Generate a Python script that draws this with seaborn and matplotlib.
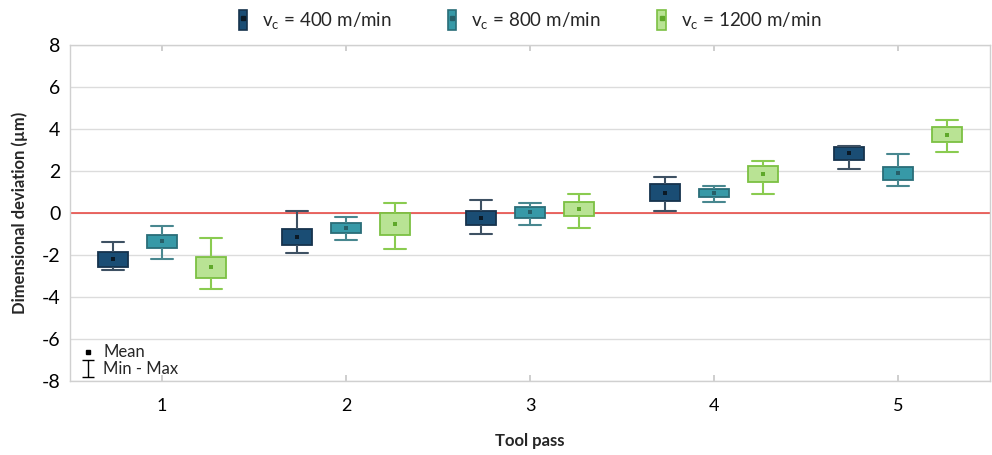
import numpy as np
import pandas as pd
import matplotlib
matplotlib.use("Agg")
import matplotlib.pyplot as plt
from matplotlib.patches import Patch
from matplotlib.lines import Line2D
from matplotlib.legend_handler import HandlerTuple
import seaborn as sns

# Tool passes and cutting speeds
passes = ["1", "2", "3", "4", "5"]
speeds = ["400", "800", "1200"]

# Dimensional deviation statistics (µm) per cutting speed and tool pass
vc400_min = [-2.71, -1.89, -0.98, 0.11, 2.10]
vc400_q1 = [-2.56, -1.52, -0.56, 0.56, 2.54]
vc400_q3 = [-1.84, -0.76, 0.08, 1.38, 3.13]
vc400_max = [-1.40, 0.10, 0.60, 1.71, 3.21]
vc400_mean = [-2.19, -1.14, -0.24, 0.97, 2.84]

vc800_min = [-2.21, -1.30, -0.59, 0.51, 1.29]
vc800_q1 = [-1.68, -0.95, -0.25, 0.76, 1.56]
vc800_q3 = [-1.03, -0.46, 0.30, 1.14, 2.19]
vc800_max = [-0.60, -0.19, 0.49, 1.30, 2.83]
vc800_mean = [-1.35, -0.71, 0.03, 0.95, 1.89]

vc1200_min = [-3.62, -1.71, -0.71, 0.92, 2.90]
vc1200_q1 = [-3.11, -1.05, -0.16, 1.46, 3.37]
vc1200_q3 = [-2.08, 0.00, 0.52, 2.24, 4.08]
vc1200_max = [-1.21, 0.49, 0.90, 2.49, 4.44]
vc1200_mean = [-2.59, -0.54, 0.17, 1.84, 3.73]

stats = {
    "400": (vc400_min, vc400_q1, vc400_mean, vc400_q3, vc400_max),
    "800": (vc800_min, vc800_q1, vc800_mean, vc800_q3, vc800_max),
    "1200": (vc1200_min, vc1200_q1, vc1200_mean, vc1200_q3, vc1200_max),
}

# Five-point samples: min, Q1, centre, Q3, max -> quartiles land on Q1/Q3
rows, mean_rows = [], []
for sp in speeds:
    mn, q1, mu, q3, mx = stats[sp]
    for i, p in enumerate(passes):
        for v in (mn[i], q1[i], mu[i], q3[i], mx[i]):
            rows.append({"pass": p, "speed": sp, "value": v})
        mean_rows.append({"pass": p, "speed": sp, "mean": mu[i]})
df = pd.DataFrame(rows)
df_mean = pd.DataFrame(mean_rows)

fills = {"400": "#1a4d74", "800": "#3799a7", "1200": "#b9e394"}
edges = {"400": "#16334d", "800": "#2a6d78", "1200": "#7cc043"}
whisk = {"400": "#3e5163", "800": "#48878f", "1200": "#8acb50"}
means = {"400": "#0b1a26", "800": "#275f68", "1200": "#5fa82a"}

sns.set_theme(style="white")
plt.rcParams["font.family"] = ["Lato", "DejaVu Sans"]
plt.rcParams["axes.unicode_minus"] = False

fig = plt.figure(figsize=(9.92, 4.55), dpi=100)
ax = fig.add_axes([70 / 992, 1 - 381 / 455, 920 / 992, 336 / 455])

sns.boxplot(
    data=df, x="pass", y="value", hue="speed", order=passes, hue_order=speeds,
    palette=fills, saturation=1, whis=(0, 100), showfliers=False, width=0.8,
    gap=0.38, linewidth=1.2, medianprops={"visible": False}, legend=False,
    ax=ax, zorder=3,
)

# Per-series edge colours and wider caps
for cont, sp in zip(ax.containers, speeds):
    for b in cont.boxes:
        b.set_edgecolor(edges[sp])
        b.set_linewidth(1.3)
    for w in cont.whiskers:
        w.set_color(whisk[sp])
        w.set_linewidth(1.5)
    for c in cont.caps:
        c.set_color(whisk[sp])
        c.set_linewidth(1.5)
        xd = np.asarray(c.get_xdata(), dtype=float)
        ctr = xd.mean()
        c.set_xdata(ctr + (xd - ctr) * 1.45)

sns.stripplot(
    data=df_mean, x="pass", y="mean", hue="speed", order=passes,
    hue_order=speeds, palette=means, dodge=True, jitter=False, marker="s",
    size=3.2, linewidth=0, legend=False, ax=ax, zorder=5,
)

ax.axhline(0, color="#e8403a", lw=1.1, zorder=2)

ax.set_ylim(-8, 8)
ax.set_xlim(-0.5, 4.5)
ax.set_yticks(np.arange(-8, 9, 2))
ax.yaxis.grid(True, color="#dcdcdc", lw=1)
ax.set_axisbelow(True)
for s in ax.spines.values():
    s.set_color("#d0d0d0")
    s.set_linewidth(1)
ax.tick_params(axis="y", length=0, labelsize=14, pad=7, colors="black")
ax.tick_params(axis="x", direction="in", length=4, color="#c8c8c8",
               top=True, bottom=True, labelsize=13, pad=12,
               labelcolor="black")

ax.set_xlabel("Tool pass", fontsize=12, fontweight="bold", labelpad=14)
ax.set_ylabel("Dimensional deviation (µm)", fontsize=12, fontweight="bold",
              labelpad=10)

# Series legend above the plot
handles = [
    (Patch(facecolor=fills[sp], edgecolor=edges[sp], lw=1.2),
     Line2D([], [], marker="s", ms=2.2, color=means[sp], ls="none"))
    for sp in speeds
]
labels = [f"v$_\\mathregular{{c}}$ = {sp} m/min" for sp in speeds]
fig.legend(handles, labels, handler_map={tuple: HandlerTuple(ndivide=1)},
           loc="center", bbox_to_anchor=(530 / 992, 1 - 21 / 455), ncol=3,
           frameon=False, fontsize=13.5, handlelength=0.45,
           handleheight=1.25, handletextpad=0.8, columnspacing=3.0)

# Key for mean marker and whisker range
mean_h = Line2D([], [], marker="s", ms=3.5, color="black", ls="none")
rng_h = ax.errorbar([np.nan], [np.nan], yerr=[np.nan], fmt="none",
                    ecolor="black", capsize=4, elinewidth=1)
ax.legend([mean_h, rng_h], ["Mean", "Min - Max"], loc="lower left",
          bbox_to_anchor=(0.0, -0.016), frameon=False, fontsize=12,
          handlelength=1.0, handletextpad=0.45, labelspacing=0.05,
          borderaxespad=0.15)

fig.savefig("out.png", dpi=100)
